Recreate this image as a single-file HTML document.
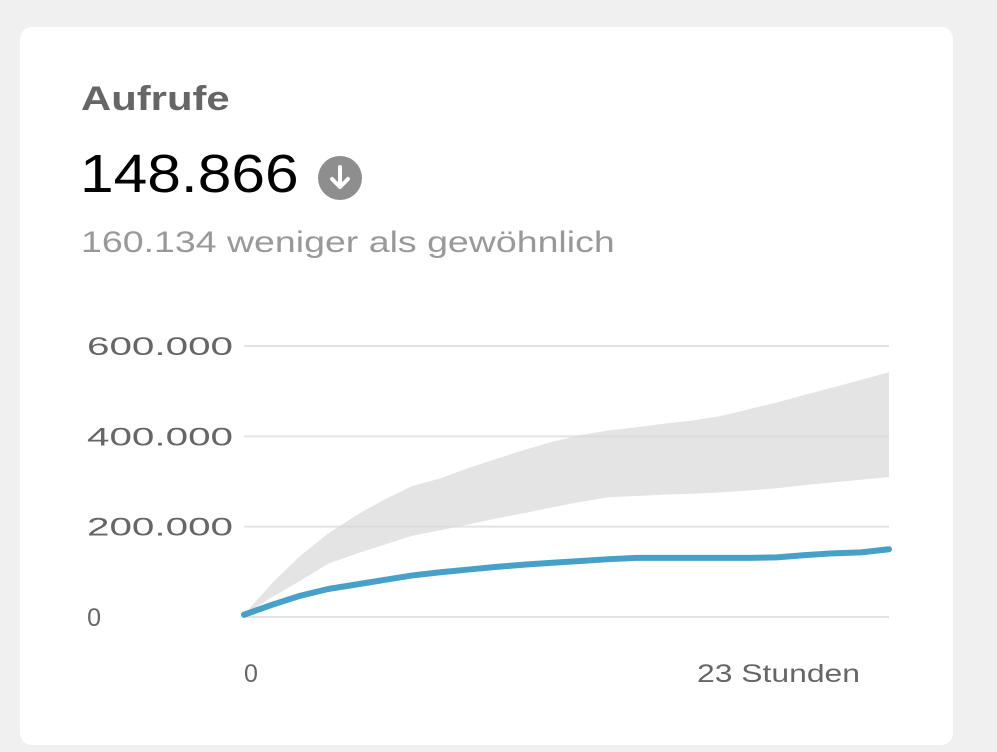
<!DOCTYPE html>
<html><head><meta charset="utf-8"><style>
body{margin:0;background:#f0f0f0;width:997px;height:752px;overflow:hidden;font-family:"Liberation Sans",sans-serif}
#card{position:absolute;left:20px;top:27px;width:933px;height:718px;background:#fff;border-radius:12px}
.t{position:absolute;white-space:nowrap;transform-origin:0 0}
</style></head><body>
<div id="card"></div>
<div class="t" style="left:81px;top:80px;font-size:34px;font-weight:bold;color:#666;transform:scaleX(1.23)">Aufrufe</div>
<div class="t" style="left:80px;top:143px;font-size:54px;color:#000;transform:scaleX(1.12)">148.866</div>
<svg class="t" style="left:318px;top:156px" width="44" height="44"><circle cx="22" cy="22" r="22" fill="#8e8e8e"/><path d="M22 11v20M14 23l8 8 8-8" stroke="#fff" stroke-width="4" fill="none" stroke-linecap="round" stroke-linejoin="round"/></svg>
<div class="t" style="left:81px;top:226px;font-size:30px;color:#999;transform:scaleX(1.25)">160.134 weniger als gewöhnlich</div>
<svg id="chart" style="position:absolute;left:0;top:0" width="997" height="752"></svg>
<script>
const hours=[0,1,2,3,4,5,6,7,8,9,10,11,12,13,14,15,16,17,18,19,20,21,22,23];
const views=[5,27,47,62,72,82,92,99,105,111,116,120,124,128,131,131,131,131,131,132,137,141,143,150].map(v=>v*1000);
const upper=[5,75,135,185,225,260,290,307,330,350,370,388,403,413,420,428,435,445,460,475,492,508,525,542].map(v=>v*1000);
const lower=[5,44,80,118,140,160,180,192,205,218,230,243,255,265,268,271,273,276,280,285,292,298,304,310].map(v=>v*1000);
const yTicks=[0,200000,400000,600000];
const yTickLabels=["0","200.000","400.000","600.000"];
const xTickLabels=["0","23 Stunden"];
const svg=document.getElementById('chart');const NS='http://www.w3.org/2000/svg';
const x=h=>244+h*(645/23);const y=v=>617-v*(271/600000);
function mk(t,a){const e=document.createElementNS(NS,t);for(const k in a)e.setAttribute(k,a[k]);svg.appendChild(e);return e;}
yTicks.forEach((t,i)=>{
 const l=mk('line',{x1:244,x2:889,y1:y(t),y2:y(t),stroke:'#e3e3e3','stroke-width':2});
 
 
 const tx=mk('text',{x:233,y:y(t)+9,'text-anchor':'end','font-size':25,fill:'#666','font-family':'Liberation Sans'});
 if(yTickLabels[i].length>1){tx.setAttribute('textLength',146);tx.setAttribute('lengthAdjust','spacingAndGlyphs');}
 else{tx.setAttribute('x',101);}
 tx.textContent=yTickLabels[i];
 
 
});
let d='M'+hours.map((h,i)=>x(h)+','+y(upper[i])).join('L')+'L'+hours.slice().reverse().map((h,j)=>x(h)+','+y(lower[hours.length-1-j])).join('L')+'Z';
const band=mk('path',{d:d,fill:'#d9d9d9','fill-opacity':0.7});


const line=mk('polyline',{points:hours.map((h,i)=>x(h)+','+y(views[i])).join(' '),fill:'none',stroke:'#46a0c8','stroke-width':6,'stroke-linejoin':'round','stroke-linecap':'round'});


const x0=mk('text',{x:x(0)+7,y:682,'text-anchor':'middle','font-size':25,fill:'#666','font-family':'Liberation Sans'});x0.textContent=xTickLabels[0];


const x1=mk('text',{x:697,y:682,'font-size':25,fill:'#666','font-family':'Liberation Sans',textLength:163,lengthAdjust:'spacingAndGlyphs'});x1.textContent=xTickLabels[1];


</script>
</body></html>
